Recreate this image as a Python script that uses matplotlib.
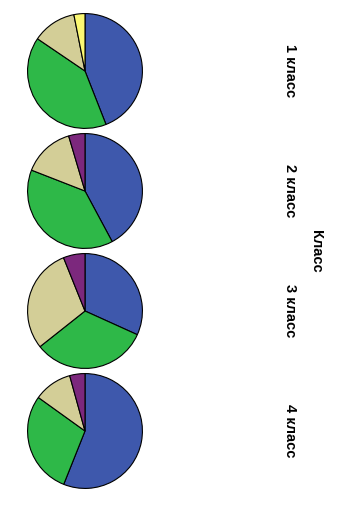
import matplotlib
matplotlib.use('Agg')
import matplotlib.pyplot as plt

plt.rcParams['font.family'] = ['Liberation Sans', 'DejaVu Sans']

# shares per class, categories in SPSS order
categories = ['Кат. 1', 'Кат. 2', 'Кат. 3', 'Кат. 4', 'Кат. 5']
class_labels = ['1 класс', '2 класс', '3 класс', '4 класс']
class1 = [44.0, 40.4, 12.4, 0.0, 3.1]
class2 = [42.2, 38.8, 14.5, 4.6, 0.0]
class3 = [31.8, 32.6, 29.6, 6.1, 0.0]
class4 = [56.1, 28.9, 10.8, 4.3, 0.0]
colors = ['#3E58AC', '#2EB848', '#D3CE97', '#7C287D', '#FBF873']

W, H = 339, 518
fig = plt.figure(figsize=(W / 100, H / 100), dpi=100)

centers_y = [71, 191, 311, 431]
radius = 58
for values, label, cy in zip([class1, class2, class3, class4], class_labels, centers_y):
	ax = fig.add_axes([(85 - radius) / W, (H - cy - radius) / H, 2 * radius / W, 2 * radius / H])
	vals = [v for v in values if v > 0]
	cols = [c for v, c in zip(values, colors) if v > 0]
	ax.pie(vals, colors=cols, startangle=90, counterclock=False,
		wedgeprops=dict(edgecolor='black', linewidth=0.8))
	ax.set_xlim(-1.01, 1.01)
	ax.set_ylim(-1.01, 1.01)
	ax.set_aspect('equal')
	ax.axis('off')
	fig.text(290 / W, 1 - cy / H, label, rotation=270, ha='center', va='center',
		fontsize=10.5, fontweight='bold')

fig.text(316 / W, 1 - 251 / H, 'Класс', rotation=270, ha='center', va='center',
	fontsize=10.5, fontweight='bold')

fig.savefig('out.png', dpi=100)
